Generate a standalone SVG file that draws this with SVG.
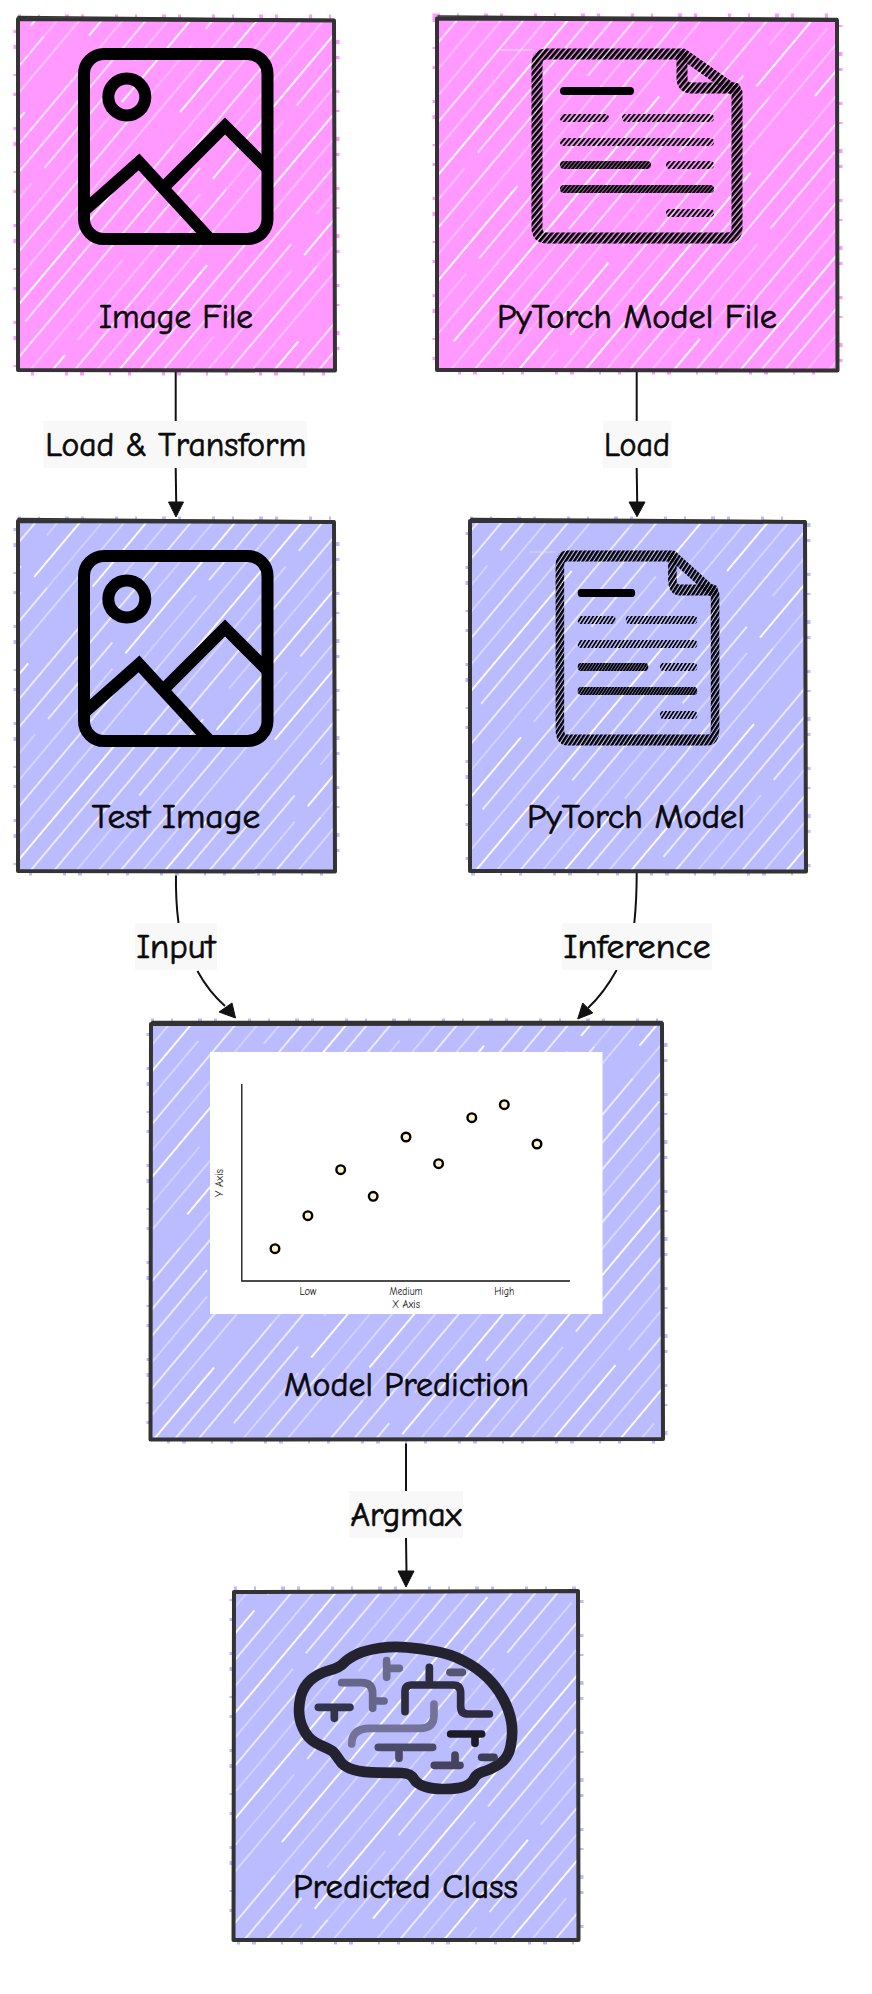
<svg xmlns="http://www.w3.org/2000/svg" width="872" height="1994" viewBox="0 0 872 1994">
<style>
text{font-family:"Comic Sans MS","Comic Neue","Lato","Noto Sans",sans-serif;fill:#0a0a0a}
.t{font-size:34px;text-anchor:middle;stroke:#0a0a0a;stroke-width:.7px}
.c{font-size:11px;text-anchor:middle;fill:#111}
.pink{fill:#ff99ff}.blue{fill:#bbbbff}
.pinkb{fill:none;stroke:#ff99ff;stroke-width:9;stroke-dasharray:3 17 2 25 4 12 3 31}
.blueb{fill:none;stroke:#bbbbff;stroke-width:9;stroke-dasharray:3 17 2 25 4 12 3 31}
.hach{fill:url(#hach)}
.bd{fill:none;stroke:#333;stroke-width:4;stroke-linejoin:round}
.bd2{fill:none;stroke:#333;stroke-width:1.5;stroke-linecap:round}
.lb{fill:#f8f8f8}
.e{fill:none;stroke:#111;stroke-width:2;stroke-linecap:butt}
.a{fill:#111;stroke:#111;stroke-width:1}
.ic{fill:none;stroke:#000;stroke-width:12;stroke-linejoin:miter}
.dc{fill:none;stroke:url(#h);stroke-width:11;stroke-linejoin:round;stroke-linecap:round}
.dl{fill:none;stroke-width:8;stroke-linecap:round}
.pt{fill:#fff2cc;stroke:#000;stroke-width:2.400}
.br{fill:none;stroke:#23232f;stroke-width:32;stroke-linecap:round;stroke-linejoin:round}
.bi{fill:none;stroke-width:23;stroke-linecap:round;stroke-linejoin:round}
</style>
<defs>
<pattern id="hach" patternUnits="userSpaceOnUse" width="420" height="119" patternTransform="rotate(-50)">
<g fill="none" stroke="#fff" stroke-opacity="0.92">
<path d="M0 6H420" stroke-width="1.300"/>
<path d="M40 23H300" stroke-width="0.700"/><path d="M320 23H420" stroke-width="1.700"/>
<path d="M0 40H190" stroke-width="1.800"/><path d="M210 40H400" stroke-width="0.800"/>
<path d="M0 57H90" stroke-width="0.600"/><path d="M110 57H420" stroke-width="1.400"/>
<path d="M0 74H420" stroke-width="0.900"/>
<path d="M30 91H350" stroke-width="1.900"/>
<path d="M0 107H170" stroke-width="0.800"/><path d="M190 107H420" stroke-width="1.300"/>
</g>
</pattern>
<pattern id="h" patternUnits="userSpaceOnUse" width="4" height="4.200" patternTransform="rotate(-50)"><rect width="4" height="2.900" fill="#000"/></pattern>
<pattern id="hl" patternUnits="userSpaceOnUse" width="4" height="3.800" patternTransform="rotate(-50)"><rect width="4" height="2" fill="#000"/></pattern>
<pattern id="hd" patternUnits="userSpaceOnUse" width="4" height="3" patternTransform="rotate(-50)"><rect width="4" height="2.400" fill="#000"/></pattern>
<g id="imgIcon">
<rect class="ic" x="84" y="54" width="183.500" height="185" rx="20"/>
<ellipse class="ic" cx="126.800" cy="97" rx="18.500" ry="18.500"/>
<path class="ic" d="M86 209L139 162L209 238"/>
<path class="ic" d="M164 187L225 126L267 168"/>
</g>
<g id="docIcon">
<path class="dc" d="M547 54H683L737 92V228Q737 238 727 238H547Q537 238 537 228V64Q537 54 547 54Z"/>
<path class="dc" d="M682 56V78Q682 88 692 88H735"/>
<path class="dl" stroke="#000" d="M564 91H630"/>
<path class="dl" stroke="url(#hl)" d="M564 118H605M626 118H710"/>
<path class="dl" stroke="url(#hl)" d="M564 142H710"/>
<path class="dl" stroke="url(#hd)" d="M564 165H647"/>
<path class="dl" stroke="url(#hl)" d="M670 165H710"/>
<path class="dl" stroke="url(#hd)" d="M564 189H710"/>
<path class="dl" stroke="url(#hl)" d="M670 213H710"/>
<path d="M498 50H532" stroke="#ddd" stroke-width="1" fill="none"/>
</g>
</defs>
<rect width="872" height="1994" fill="#fff"/>

<g id="connectors">
<path class="e" d="M175.700 372V421"/><path class="e" d="M175.700 468L176.200 503"/><path class="a" d="M176 517L168.500 502H183.500Z"/>
<path class="e" d="M636.700 372V421"/><path class="e" d="M636.700 468L637.200 503"/><path class="a" d="M637 516.700L629 502H645Z"/>
<path class="e" d="M176 873Q175.500 900 178.500 923"/><path class="e" d="M197.400 971Q209 992 225 1006"/><path class="a" d="M235.500 1018L219 1012L232 1003Z"/>
<path class="e" d="M636.700 873Q636.700 900 634.300 923"/><path class="e" d="M616.700 970Q604 993 588 1008"/><path class="a" d="M577.700 1019L582.700 1003L592.700 1013Z"/>
<path class="e" d="M406 1441V1491"/><path class="e" d="M406 1538L406.500 1572"/><path class="a" d="M406 1587L398 1571H414Z"/>
</g>

<g id="node-image-file">
<rect class="pinkb" x="18" y="19" width="317" height="352"/><rect class="pink" x="18" y="19" width="317" height="352"/><rect class="hach" x="18" y="19" width="317" height="352"/>
<path class="bd" d="M18 19L334 20.500L335 370.500L18 370Z"/><path class="bd2" d="M18 16.500Q170 17.500 334 19.500"/>
<use href="#imgIcon"/>
<text class="t" x="176" y="328" textLength="154" lengthAdjust="spacingAndGlyphs">Image File</text>
</g>
<g id="node-pytorch-file">
<rect class="pinkb" x="437" y="18" width="401" height="352"/><rect class="pink" x="437" y="18" width="401" height="352"/><rect class="hach" x="437" y="18" width="401" height="352"/>
<path class="bd" d="M437 18.500L837 20L837.500 370.500L437 370Z"/><path class="bd2" d="M438 16Q620 17 837 18.500"/>
<use href="#docIcon"/>
<text class="t" x="637" y="328" textLength="280" lengthAdjust="spacingAndGlyphs">PyTorch Model File</text>
</g>
<g id="node-test-image">
<rect class="blueb" x="18" y="521" width="317" height="350"/><rect class="blue" x="18" y="521" width="317" height="350"/><rect class="hach" x="18" y="521" width="317" height="350"/>
<path class="bd" d="M18 521L334 522L335 871.500L18 871Z"/><path class="bd2" d="M18 518.500Q170 519 334 521"/>
<use href="#imgIcon" y="502"/>
<text class="t" x="176" y="828" textLength="168.500" lengthAdjust="spacingAndGlyphs">Test Image</text>
</g>
<g id="node-pytorch-model">
<rect class="blueb" x="470" y="521" width="336" height="350"/><rect class="blue" x="470" y="521" width="336" height="350"/><rect class="hach" x="470" y="521" width="336" height="350"/>
<path class="bd" d="M470 521L805 522L806 871.500L470 871Z"/><path class="bd2" d="M471 518.500Q640 519 805 521"/>
<use href="#docIcon" transform="translate(556 502) scale(0.776 1) translate(-532 0)"/>
<text class="t" x="636" y="828" textLength="218" lengthAdjust="spacingAndGlyphs">PyTorch Model</text>
</g>
<g id="node-model-prediction">
<rect class="blueb" x="151" y="1023" width="512" height="416"/><rect class="blue" x="151" y="1023" width="512" height="416"/><rect class="hach" x="151" y="1023" width="512" height="416"/>
<path class="bd" d="M151 1024L662 1023.500L663 1439L150.500 1439.500Z"/><path class="bd2" d="M152 1021.500Q400 1021 662 1021.500"/>
<rect x="210" y="1052" width="392.500" height="262" fill="#fff"/>
<path d="M241.800 1084V1281H570" fill="none" stroke="#111" stroke-width="1.300"/>
<circle class="pt" cx="275" cy="1248.700" r="4.300"/><circle class="pt" cx="307.900" cy="1215.700" r="4.300"/><circle class="pt" cx="340.700" cy="1169.700" r="4.300"/>
<circle class="pt" cx="373.200" cy="1196.300" r="4.300"/><circle class="pt" cx="406" cy="1137" r="4.300"/><circle class="pt" cx="438.600" cy="1163.700" r="4.300"/>
<circle class="pt" cx="471.800" cy="1117.700" r="4.300"/><circle class="pt" cx="504.300" cy="1104.700" r="4.300"/><circle class="pt" cx="537" cy="1144" r="4.300"/>
<text class="c" x="307.900" y="1295" textLength="17" lengthAdjust="spacingAndGlyphs">Low</text>
<text class="c" x="406" y="1295" textLength="33" lengthAdjust="spacingAndGlyphs">Medium</text>
<text class="c" x="504.300" y="1295" textLength="20" lengthAdjust="spacingAndGlyphs">High</text>
<text class="c" x="406" y="1308" textLength="28" lengthAdjust="spacingAndGlyphs">X Axis</text>
<text class="c" transform="translate(223 1183) rotate(-90)" textLength="28" lengthAdjust="spacingAndGlyphs">Y Axis</text>
<text class="t" x="406.600" y="1396" textLength="245" lengthAdjust="spacingAndGlyphs">Model Prediction</text>
</g>
<g id="node-predicted-class">
<rect class="blueb" x="234" y="1591" width="345" height="349"/><rect class="blue" x="234" y="1591" width="345" height="349"/><rect class="hach" x="234" y="1591" width="345" height="349"/>
<path class="bd" d="M234 1592L578 1591L578.500 1940L233.500 1940Z"/>
<g transform="translate(220 1590) scale(0.33333)">
<path class="br" d="M412 192Q440 180 480 174Q520 168 560 172Q600 175 645 184Q690 192 730 212Q770 232 800 261Q830 290 849 325Q868 360 874 395Q880 430 872 468Q865 505 838 522Q810 540 790 545Q770 550 762 566Q755 582 732 590Q710 597 675 597Q640 598 615 590Q590 582 581 566Q572 550 546 549Q520 548 475 548Q430 548 400 539Q370 530 358 510Q345 490 338 484Q330 478 300 465Q270 452 255 426Q240 400 238 375Q235 350 242 320Q250 290 272 270Q295 250 328 241Q360 232 372 218Q385 205 412 192Z"/>
<path class="bi" stroke="#2c2c3e" d="M555 365V305Q555 285 575 285H700Q722 285 722 310V350Q722 372 745 372H808M628 232V285"/>
<path class="bi" stroke="#6a6a8c" d="M500 212V262M500 235H538"/>
<path class="bi" stroke="#66668a" d="M365 278H425Q458 278 458 310V355M458 333H492"/>
<path class="bi" stroke="#33334a" d="M295 352H390M343 352V385"/>
<path class="bi" stroke="#555570" d="M690 247H727"/>
<path class="bi" stroke="#73739a" d="M395 462Q395 415 450 415H600Q642 415 642 375V342"/>
<path class="bi" stroke="#4a4a68" d="M475 472H638M537 472V505"/>
<path class="bi" stroke="#1c1c28" d="M692 432H785M765 432V460"/>
<path class="bi" stroke="#44445f" d="M643 526H720M705 526V495"/>
<path class="bi" stroke="#3d3d55" d="M785 502H822"/>
</g>
<text class="t" x="405.500" y="1898" textLength="225" lengthAdjust="spacingAndGlyphs">Predicted Class</text>
</g>

<g id="edge-labels">
<rect class="lb" x="43.400" y="421" width="263.600" height="47"/><text class="t" x="175.700" y="456" textLength="261" lengthAdjust="spacingAndGlyphs">Load &amp; Transform</text>
<rect class="lb" x="603" y="421" width="68.500" height="47"/><text class="t" x="637" y="456" textLength="66" lengthAdjust="spacingAndGlyphs">Load</text>
<rect class="lb" x="135" y="923" width="82" height="47"/><text class="t" x="176" y="958" textLength="79" lengthAdjust="spacingAndGlyphs">Input</text>
<rect class="lb" x="562" y="923" width="150" height="47"/><text class="t" x="637" y="958" textLength="147" lengthAdjust="spacingAndGlyphs">Inference</text>
<rect class="lb" x="349" y="1491" width="114" height="47"/><text class="t" x="406" y="1526" textLength="111" lengthAdjust="spacingAndGlyphs">Argmax</text>
</g>
</svg>
